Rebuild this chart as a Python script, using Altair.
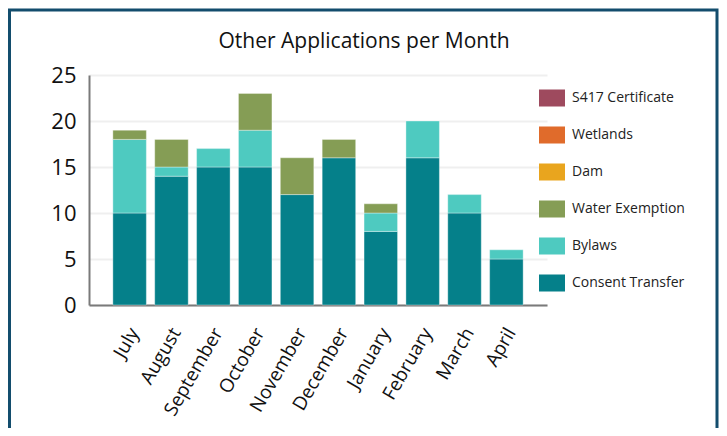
import altair as alt
import pandas as pd

months = ["July", "August", "September", "October", "November",
          "December", "January", "February", "March", "April"]
consent_transfer = [10, 14, 15, 15, 12, 16, 8, 16, 10, 5]
bylaws = [8, 1, 2, 4, 0, 0, 2, 4, 2, 1]
water_exemption = [1, 3, 0, 4, 4, 2, 1, 0, 0, 0]
dam = [0, 0, 0, 0, 0, 0, 0, 0, 0, 0]
wetlands = [0, 0, 0, 0, 0, 0, 0, 0, 0, 0]
s417_certificate = [0, 0, 0, 0, 0, 0, 0, 0, 0, 0]

chart_title = "Other Applications per Month"
legend_order = ["S417 Certificate", "Wetlands", "Dam", "Water Exemption", "Bylaws", "Consent Transfer"]
colors = ["#9e4a5e", "#e06b2b", "#e9a51e", "#859d55", "#4ecac0", "#05808a"]

series = {
    "Consent Transfer": consent_transfer,
    "Bylaws": bylaws,
    "Water Exemption": water_exemption,
    "Dam": dam,
    "Wetlands": wetlands,
    "S417 Certificate": s417_certificate,
}
stack_rank = {name: i for i, name in enumerate(series)}

rows = []
for name, vals in series.items():
    for m, v in zip(months, vals):
        if v > 0:
            rows.append({"Month": m, "Type": name, "Count": v, "rank": stack_rank[name]})
df = pd.DataFrame(rows)

FONT = "Open Sans"

bars = alt.Chart(df).mark_bar(stroke="white", strokeOpacity=0.35, strokeWidth=1).encode(
    x=alt.X("Month:N", sort=months,
            scale=alt.Scale(paddingInner=0.2, paddingOuter=0.57),
            axis=alt.Axis(title=None, labelAngle=-60, labelAlign="right",
                          labelBaseline="alphabetic", labelOffset=10, labelPadding=27,
                          ticks=False, tickSize=0, grid=False, domainColor="#7a7a7a",
                          domainWidth=2, labelFontSize=19, labelColor="#111111",
                          labelFont=FONT)),
    y=alt.Y("Count:Q", stack="zero",
            scale=alt.Scale(domain=[0, 25], nice=False),
            axis=alt.Axis(title=None, values=[0, 5, 10, 15, 20, 25], ticks=False,
                          tickSize=0, grid=True, gridColor="#efefef", gridWidth=2,
                          domainColor="#7a7a7a", domainWidth=2, labelFontSize=22,
                          labelColor="#111111", labelPadding=13, labelFont=FONT)),
    color=alt.Color("Type:N",
                    scale=alt.Scale(domain=legend_order, range=colors),
                    legend=alt.Legend(title=None, orient="none", legendX=450, legendY=10,
                                      symbolType="M-1,-0.654H1V0.654H-1Z", symbolSize=676,
                                      symbolStrokeWidth=0, symbolOpacity=1,
                                      labelFontSize=14, labelColor="#222222",
                                      labelFont=FONT, labelOffset=7, rowPadding=15,
                                      padding=0)),
    order=alt.Order("rank:Q", sort="ascending"),
)

frame = alt.Chart(alt.Data(values=[{"f": 1}])).mark_rect(
    filled=False, stroke="#134d6d", strokeWidth=3
).encode(
    x=alt.value(-79.5), x2=alt.value(628), y=alt.value(-65), y2=alt.value(380)
)

title = alt.Chart(alt.Data(values=[{"f": 1}])).mark_text(
    font=FONT, fontSize=21, color="#111111", align="center", baseline="alphabetic"
).encode(
    x=alt.value(275), y=alt.value(-27), text=alt.value(chart_title)
)

chart = alt.layer(frame, bars, title).properties(
    width=458, height=230,
    autosize=alt.AutoSizeParams(type="none"),
    padding={"left": 81, "top": 67, "right": 172, "bottom": 123},
).configure_view(stroke=None)

chart.save("out.html", embed_options={"renderer": "svg", "actions": False})
